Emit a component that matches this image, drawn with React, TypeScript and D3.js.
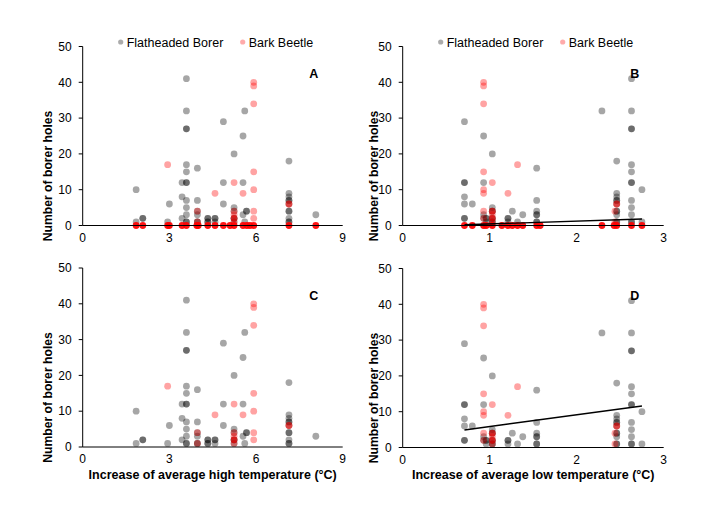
import * as d3 from 'd3';

// tree counts; a repeated pair means overlapping (darker) dots
const fbHigh: [number, number][] = [
  [1.85, 10], [1.85, 1],
  [2.08, 2], [2.08, 2],
  [2.94, 1], [3.0, 6],
  [3.44, 8], [3.44, 12], [3.44, 2],
  [3.59, 41], [3.59, 32], [3.59, 27], [3.59, 27], [3.59, 17], [3.59, 15], [3.59, 12], [3.59, 12],
  [3.59, 7], [3.59, 5], [3.59, 3], [3.59, 1], [3.59, 1],
  [3.97, 16], [3.97, 7], [3.97, 4], [3.97, 3], [3.97, 1], [3.97, 1],
  [4.33, 2], [4.33, 2], [4.33, 1], [4.33, 1],
  [4.58, 2], [4.58, 2], [4.58, 1],
  [4.87, 29], [4.87, 12], [4.87, 6],
  [5.24, 20], [5.24, 5], [5.24, 4], [5.24, 2], [5.24, 2], [5.24, 1],
  [5.55, 25], [5.55, 12], [5.55, 3],
  [5.61, 32], [5.61, 1], [5.67, 4], [5.67, 4],
  [7.14, 18], [7.14, 9], [7.14, 8], [7.14, 7], [7.14, 7], [7.14, 6], [7.14, 4], [7.14, 4],
  [7.14, 2], [7.14, 1], [7.14, 1],
  [8.07, 3],
];

const barkHigh: [number, number][] = [
  [2.94, 17], [3.97, 4], [3.97, 1], [4.58, 9],
  [5.24, 12], [5.24, 4], [5.24, 3], [5.24, 2], [5.24, 2], [5.24, 1],
  [5.55, 9],
  [5.92, 40], [5.92, 39], [5.92, 34], [5.92, 15], [5.92, 10], [5.92, 4], [5.92, 2],
  [7.14, 6], [7.14, 6],
];

// sites where bark beetle holes were zero (many trees stacked)
const barkZeroHigh = [1.85, 2.08, 2.94, 3.0, 3.44, 3.59, 3.95, 4.0, 4.33, 4.58, 4.87, 5.1, 5.24, 5.55, 5.68, 5.79, 5.92, 7.14, 8.07];

const fbLow: [number, number][] = [
  [0.71, 29], [0.71, 12], [0.71, 12], [0.71, 8], [0.71, 6], [0.71, 2], [0.71, 2],
  [0.8, 6],
  [0.93, 25], [0.93, 12], [0.93, 3], [0.93, 2],
  [0.96, 2], [0.96, 2], [0.96, 1],
  [1.03, 20], [1.03, 5], [1.03, 4], [1.03, 4], [1.03, 2], [1.03, 2], [1.03, 1], [1.03, 1],
  [1.21, 2], [1.21, 2], [1.21, 1],
  [1.26, 4], [1.32, 1], [1.38, 3],
  [1.54, 16], [1.54, 7], [1.54, 4], [1.54, 3], [1.54, 3], [1.54, 1], [1.54, 1],
  [2.29, 32],
  [2.46, 18], [2.46, 9], [2.46, 8], [2.46, 7], [2.46, 7], [2.46, 6], [2.46, 4], [2.46, 4],
  [2.46, 3], [2.46, 1], [2.46, 1],
  [2.63, 41], [2.63, 32], [2.63, 27], [2.63, 27], [2.63, 17], [2.63, 15], [2.63, 12], [2.63, 12],
  [2.63, 7], [2.63, 5], [2.63, 3], [2.63, 1], [2.63, 1],
  [2.75, 10], [2.75, 1],
];

const barkLow: [number, number][] = [
  [0.93, 40], [0.93, 39], [0.93, 34], [0.93, 15], [0.93, 10], [0.93, 9], [0.93, 4], [0.93, 2],
  [1.03, 12], [1.03, 4], [1.03, 4], [1.03, 3], [1.03, 2], [1.03, 2], [1.03, 1],
  [1.21, 9], [1.32, 17],
  [2.44, 4], [2.46, 6], [2.46, 6], [2.44, 1],
];

const barkZeroLow = [0.71, 0.8, 0.93, 0.96, 1.03, 1.14, 1.21, 1.26, 1.32, 1.38, 1.54, 1.58, 2.29, 2.43, 2.46, 2.63, 2.75];

// fitted trend lines (end points) for the low-temperature panels
const trendB: [number, number][] = [[0.71, 0.2], [2.75, 1.8]];
const trendD: [number, number][] = [[0.71, 4.9], [2.75, 11.6]];

const yTicks = [0, 10, 20, 30, 40, 50];
const highTicks = [0, 3, 6, 9];
const lowTicks = [0, 1, 2, 3];

const FONT = 'Liberation Sans, Arial, Helvetica, sans-serif';

interface PanelProps {
  left: number;
  top: number;
  width: number;
  height: number;
  xMax: number;
  xTicks: number[];
  fb: [number, number][];
  bark: [number, number][];
  barkZeros?: number[];
  trend?: [number, number][];
  letter: string;
  legend?: boolean;
  xLabel?: string;
  titleX: number;
}

function Panel({ left, top, width, height, xMax, xTicks, fb, bark, barkZeros, trend, letter, legend, xLabel, titleX }: PanelProps) {
  const x = d3.scaleLinear().domain([0, xMax]).range([0, width]);
  const y = d3.scaleLinear().domain([0, 50]).range([height, 0]);
  const line = d3.line<[number, number]>().x(d => x(d[0])).y(d => y(d[1]));
  const r = 3.4;

  return (
    <g transform={`translate(${left},${top})`} fontFamily={FONT}>
      {legend && (
        <g transform="translate(0,-4.5)">
          <circle cx={38} cy={0} r={2.6} fill="#000" fillOpacity={0.33} />
          <text x={44} y={4.5} fontSize={12.5} fill="#000">Flatheaded Borer</text>
          <circle cx={160} cy={0} r={2.6} fill="#ff0000" fillOpacity={0.33} />
          <text x={166} y={4.5} fontSize={12.5} fill="#000">Bark Beetle</text>
        </g>
      )}

      {fb.map((d, i) => (
        <circle key={'f' + i} cx={x(d[0])} cy={y(d[1])} r={r} fill="#000" fillOpacity={0.35} />
      ))}
      {bark.map((d, i) => (
        <circle key={'b' + i} cx={x(d[0])} cy={y(d[1])} r={r} fill="#ff0000" fillOpacity={0.36} />
      ))}
      {barkZeros && barkZeros.map((v, i) => (
        <circle key={'z' + i} cx={x(v)} cy={y(0)} r={r} fill="#ff0000" fillOpacity={0.92} />
      ))}

      {trend && <path d={line(trend) || ''} fill="none" stroke="#000" strokeWidth={1.4} />}

      {/* axes */}
      <line x1={0} x2={0} y1={0} y2={height} stroke="#000" strokeWidth={1} />
      <line x1={0} x2={width} y1={height} y2={height} stroke="#000" strokeWidth={1} />
      {yTicks.map(t => (
        <g key={t} transform={`translate(0,${y(t)})`}>
          <line x1={-4} x2={0} stroke="#000" />
          <text x={-11} dy="0.35em" textAnchor="end" fontSize={12}>{t}</text>
        </g>
      ))}
      {xTicks.map(t => (
        <text key={t} x={x(t)} y={height + 16} textAnchor="middle" fontSize={12}>{t}</text>
      ))}

      <text
        transform={`translate(${titleX},${height / 2 + 40}) rotate(-90)`}
        textAnchor="middle"
        fontSize={12.2}
        fontWeight="bold"
      >
        Number of borer holes
      </text>
      {xLabel && (
        <text x={width / 2} y={height + 31.5} textAnchor="middle" fontSize={12.5} fontWeight="bold">
          {xLabel}
        </text>
      )}

      <text x={width - 29} y={31.5} textAnchor="middle" fontSize={12.5} fontWeight="bold">{letter}</text>
    </g>
  );
}

export default function App() {
  return (
    <svg width={707} height={505} style={{ display: 'block', margin: '-8px 0 0 -8px', background: '#fff' }}>
      <Panel left={82.7} top={46.5} width={260} height={179} xMax={9} xTicks={highTicks} titleX={-31}
        fb={fbHigh} bark={barkHigh} barkZeros={barkZeroHigh} letter="A" legend />
      <Panel left={402.7} top={46.5} width={261} height={179} xMax={3} xTicks={lowTicks} titleX={-25}
        fb={fbLow} bark={barkLow} barkZeros={barkZeroLow} trend={trendB} letter="B" legend />
      <Panel left={82.7} top={268} width={260} height={179} xMax={9} xTicks={highTicks} titleX={-31}
        fb={fbHigh} bark={barkHigh} letter="C" xLabel="Increase of average high temperature (°C)" />
      <Panel left={402.7} top={268.5} width={261} height={179} xMax={3} xTicks={lowTicks} titleX={-25}
        fb={fbLow} bark={barkLow} trend={trendD} letter="D" xLabel="Increase of average low temperature (°C)" />
    </svg>
  );
}
